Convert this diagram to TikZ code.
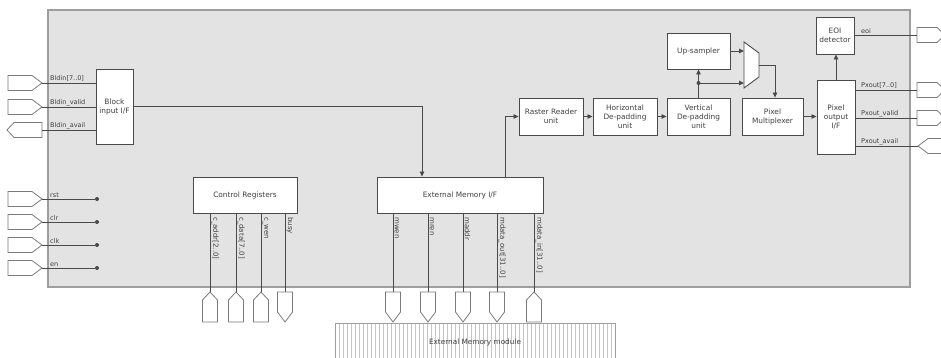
\documentclass[tikz,border=0pt]{standalone}
\usepackage{fontspec}
\setmainfont{DejaVu Sans}
\usetikzlibrary{arrows.meta}
\definecolor{panel}{HTML}{E3E3E3}
\definecolor{frame}{HTML}{9E9E9E}
\definecolor{linec}{HTML}{4A4A4A}
\definecolor{portc}{HTML}{7A7A7A}
\definecolor{txt}{HTML}{404040}
\definecolor{hatchc}{HTML}{C4C4C4}
\begin{document}
\begin{tikzpicture}[x=1pt,y=-1pt,
  blk/.style={draw=linec,fill=white,line width=0.9pt,align=center,inner sep=1pt,
    text=txt,font=\fontsize{7.4}{9}\selectfont},
  sig/.style={text=txt,inner sep=1pt,font=\fontsize{6.5}{7.5}\selectfont},
  vsig/.style={sig,rotate=-90,anchor=south west,font=\fontsize{7}{8}\selectfont},
  wire/.style={draw=linec,line width=0.8pt},
  arr/.style={wire,-{Triangle[length=5pt,width=4.5pt]}},
  port/.style={draw=portc,fill=white,line width=0.8pt},
  jdot/.style={circle,fill=linec,inner sep=0pt,minimum size=4pt}]
\pgfmathsetmacro{\pw}{7.5}
\clip (0,0) rectangle (941,358);
\draw[draw=frame,fill=panel,line width=1.5pt] (48,10) rectangle (910,287);

\node[blk,minimum width=37,minimum height=75] (bif) at (114.5,106.5) {Block\\input I/F};
\node[blk,minimum width=104,minimum height=36] (ctrl) at (245,195) {Control Registers};
\node[blk,minimum width=166,minimum height=36] (emif) at (460,195) {External Memory I/F};
\node[blk,minimum width=64,minimum height=37] (rast) at (551,116.5) {Raster Reader\\unit};
\node[blk,minimum width=64,minimum height=37] (hdp) at (625,116.5) {Horizontal\\De-padding\\unit};
\node[blk,minimum width=63,minimum height=37] (vdp) at (698.5,116.5) {Vertical\\De-padding\\unit};
\node[blk,minimum width=63,minimum height=36] (ups) at (698.5,51) {Up-sampler};
\node[blk,minimum width=61,minimum height=37] (pmux) at (772.5,116.5) {Pixel\\Multiplexer};
\node[blk,minimum width=38,minimum height=74] (pout) at (836,117) {Pixel\\output\\I/F};
\node[blk,minimum width=38,minimum height=37] (eoi) at (835,35.5) {EOI\\detector};

\draw[draw=linec,fill=white,line width=0.9pt] (744,42) -- (759,53) -- (759,77) -- (744,88) -- cycle;
\coordinate (muxa) at (744,51);
\coordinate (muxb) at (744,83);
\coordinate (muxo) at (759,65);
\coordinate (jn) at (698.5,83);

\draw[arr] (bif.east) -| ([xshift=-38]emif.north);
\draw[arr] ([xshift=45]emif.north) |- (rast.west);
\draw[arr] (rast) -- (hdp);
\draw[arr] (hdp) -- (vdp);
\draw[arr] (vdp) -- (ups);
\draw[arr] (ups.east) -- (muxa);
\draw[arr] (jn) -- (muxb);
\node[jdot] at (jn) {};
\draw[arr] (muxo) -| ([xshift=2.5]pmux.north);
\draw[arr] (pmux.east) -- (pmux.east -| pout.west);
\draw[arr] (pout.north) -- (pout.north |- eoi.south);

\foreach \y/\lab in {83/{Bldin[7..0]},107/{Bldin\_valid}} {
  \draw[port] (42,\y) -- ++(-10,-\pw) -- ++(-24,0) -- ++(0,2*\pw) -- ++(24,0) -- cycle;
  \coordinate (pin) at (42,\y);
  \draw[wire] (pin) -- (pin -| bif.west);
  \node[sig,anchor=south west] at (49,\y) {\lab};
}
\draw[port] (42,130) ++(0,-\pw) -- ++(-28,0) -- ++(-7,\pw) -- ++(7,\pw) -- ++(28,0) -- cycle;
\coordinate (pavail) at (42,130);
\draw[wire] (pavail) -- (pavail -| bif.west);
\node[sig,anchor=south west] at (49,130) {Bldin\_avail};

\foreach \y/\lab in {199/rst,222/clr,245/clk,268/en} {
  \draw[port] (42,\y) -- ++(-10,-\pw) -- ++(-24,0) -- ++(0,2*\pw) -- ++(24,0) -- cycle;
  \coordinate (pin) at (42,\y);
  \node[jdot] (end) at (97,\y) {};
  \draw[wire] (pin) -- (end);
  \node[sig,anchor=south west] at (49,\y) {\lab};
}

\foreach \x/\lab in {210/{c\_addr[2..0]},236/{c\_data[7..0]},261/{c\_wen},285/busy} {
  \coordinate (pb) at (\x,292);
  \draw[wire] (pb |- ctrl.south) -- (pb);
  \node[vsig] at (\x+0.5,216) {\lab};
}
\foreach \x/\lab in {393/mwen,428/mren,463/maddr,497/{mdata\_out[31..0]},534/{mdata\_in[31..0]}} {
  \coordinate (pb) at (\x,292);
  \draw[wire] (pb |- emif.south) -- (pb);
  \node[vsig] at (\x+0.5,216) {\lab};
}
\foreach \x in {210,236,261,534}
  \draw[port] (\x,292) -- ++(\pw,8) -- ++(0,22) -- ++(-2*\pw,0) -- ++(0,-22) -- cycle;
\foreach \x in {285,393,428,463,497}
  \draw[port] (\x,292) ++(-\pw,0) -- ++(2*\pw,0) -- ++(0,20) -- ++(-\pw,10) -- ++(-\pw,-10) -- cycle;

\draw[draw=frame,fill=white,line width=0.8pt] (335,323) rectangle (615,370);
\foreach \x in {339,343,...,611}
  \draw[hatchc,line width=0.6pt] (\x,324) -- (\x,370);
\node[sig,font=\fontsize{7.3}{8}\selectfont] (extmem) at (475,342) {External Memory module};

\foreach \y/\lab in {35/eoi,90/{Pxout[7..0]},118/{Pxout\_valid}} {
  \draw[port] (917,\y) ++(0,-\pw) -- ++(20,0) -- ++(8,\pw) -- ++(-8,\pw) -- ++(-20,0) -- cycle;
  \coordinate (pout\y) at (917,\y);
}
\draw[port] (918,146) -- ++(10,-\pw) -- ++(30,0) -- ++(0,2*\pw) -- ++(-30,0) -- cycle;
\coordinate (pout146) at (918,146);
\draw[wire] (pout35 -| eoi.east) -- (pout35);
\node[sig,anchor=south west] at (860,35) {eoi};
\draw[wire] (pout90 -| pout.east) -- (pout90);
\node[sig,anchor=south west] at (860,90) {Pxout[7..0]};
\draw[wire] (pout118 -| pout.east) -- (pout118);
\node[sig,anchor=south west] at (860,118) {Pxout\_valid};
\draw[wire] (pout146 -| pout.east) -- (pout146);
\node[sig,anchor=south west] at (860,146) {Pxout\_avail};
\end{tikzpicture}
\end{document}
